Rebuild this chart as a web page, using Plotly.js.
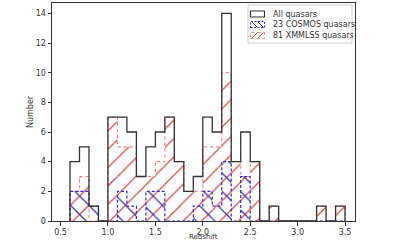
<!DOCTYPE html>
<html>
<head>
<meta charset="utf-8">
<script src="https://cdn.plot.ly/plotly-3.0.1.min.js"></script>
<style>html,body{margin:0;padding:0;background:#fff;}#chart{width:400px;height:240px;}</style>
</head>
<body>
<div id="chart"></div>
<script>
// Bin left edges (bin width 0.1)
const binLeft = [0.6,0.7,0.8,0.9,1.0,1.1,1.2,1.3,1.4,1.5,1.6,1.7,1.8,1.9,2.0,2.1,2.2,2.3,2.4,2.5,2.6,2.7,2.8,2.9,3.0,3.1,3.2,3.3,3.4];
const binWidth = 0.1;
// Counts per bin
const allCounts    = [4,5,1,0,7,7,6,3,5,6,7,4,2,3,7,6,14,4,6,4,0,1,0,0,0,0,1,0,1];
const cosmosCounts = [2,2,1,0,0,2,1,0,2,2,0,0,0,1,2,1,4,0,3,0,0,0,0,0,0,0,0,0,0];
const xmmCounts    = [2,3,0,0,7,5,5,3,3,4,7,4,2,2,5,5,10,4,3,4,0,1,0,0,0,0,1,0,1];
const names = ['All quasars','23 COSMOS quasars','81 XMMLSS quasars'];
const xTitle = 'Redshift';
const yTitle = 'Number';
const xTicks = [0.5,1.0,1.5,2.0,2.5,3.0,3.5];
const yTicks = [0,2,4,6,8,10,12,14];

const edges = binLeft.concat([binLeft[binLeft.length-1] + binWidth]);
function stepX(){ return [edges[0]].concat(edges); }
function stepY(c){ return [0].concat(c).concat([0]); }

const redHatch = 'rgb(214,75,75)';
const redLine = 'rgb(232,135,135)';
const blueHatch = 'rgb(55,45,185)';
const blueLine = 'rgb(45,45,205)';
const black = '#333';

const W = 400, H = 240, M = {l:52, r:45, t:3, b:19};
const pw = W - M.l - M.r, ph = H - M.t - M.b;
const px = x => (x - M.l) / pw;
const py = y => (H - M.b - y) / ph;

const traces = [
  {type:'bar', x:binLeft, y:xmmCounts, width:binWidth, offset:0, showlegend:false, hoverinfo:'skip',
   marker:{color:'rgba(0,0,0,0)', opacity:1, line:{width:0},
     pattern:{shape:'/', fgcolor:redHatch, fgopacity:1, bgcolor:'rgba(0,0,0,0)', size:13, solidity:0.1, fillmode:'overlay'}}},
  {type:'bar', x:binLeft, y:cosmosCounts, width:binWidth, offset:0, showlegend:false, hoverinfo:'skip',
   marker:{color:'rgba(0,0,0,0)', opacity:1, line:{width:0},
     pattern:{shape:'\\', fgcolor:blueHatch, fgopacity:1, bgcolor:'rgba(0,0,0,0)', size:13, solidity:0.1, fillmode:'overlay'}}},
  {type:'scatter', mode:'lines', x:stepX(), y:stepY(xmmCounts), line:{shape:'hv', color:redLine, width:1.2, dash:'dot'}, showlegend:false, hoverinfo:'skip'},
  {type:'scatter', mode:'lines', x:stepX(), y:stepY(cosmosCounts), line:{shape:'hv', color:blueLine, width:1.2, dash:'3px,2px'}, showlegend:false, hoverinfo:'skip'},
  {type:'scatter', mode:'lines', x:stepX(), y:stepY(allCounts), line:{shape:'hv', color:black, width:1.3}, showlegend:false, hoverinfo:'skip'}
];

// manual legend (matplotlib-like compact box)
const shapes = [
  {type:'rect', xref:'paper', yref:'paper', x0:px(248), x1:px(352), y0:py(43), y1:py(5),
   line:{color:'#d0d0d0', width:1}, fillcolor:'rgba(255,255,255,0.85)', layer:'above'}
];
const annotations = [
  {xref:'paper', yref:'paper', x:px(203), y:py(236.5), xanchor:'center', yanchor:'middle', text:xTitle,
   showarrow:false, font:{size:7, color:'#333'}},
  {xref:'paper', yref:'paper', x:px(30), y:py(112), xanchor:'center', yanchor:'middle', text:yTitle,
   textangle:-90, showarrow:false, font:{size:8, color:'#333'}}
];
const rowsY = [14, 24.5, 35.5];
const swStyles = [
  {color:black, dash:'solid', hatch:null},
  {color:blueLine, dash:'2px,1.5px', hatch:'\\', hc:blueHatch},
  {color:redLine, dash:'dot', hatch:'/', hc:redHatch}
];
rowsY.forEach((ry, i) => {
  const s = swStyles[i];
  const x0 = 250.5, x1 = 264.5, y0 = ry - 3, y1 = ry + 3;
  if (s.hatch) {
    [0, 6].forEach(o => {
      const a = x0 + o + 1, b = Math.min(a + 6, x1);
      const line = s.hatch === '/' ? {x0:px(a), y0:py(y1), x1:px(b), y1:py(y0)} : {x0:px(a), y0:py(y0), x1:px(b), y1:py(y1)};
      shapes.push(Object.assign({type:'line', xref:'paper', yref:'paper', line:{color:s.hc, width:1}, layer:'above'}, line));
    });
  }
  shapes.push({type:'rect', xref:'paper', yref:'paper', x0:px(x0), x1:px(x1), y0:py(y1), y1:py(y0),
    line:{color:s.color, width:1.1, dash:s.dash}, fillcolor:'rgba(0,0,0,0)', layer:'above'});
  annotations.push({xref:'paper', yref:'paper', x:px(271), y:py(ry), xanchor:'left', yanchor:'middle',
    text:names[i], showarrow:false, font:{size:8, color:'#333'}});
});

const layout = {
  width:W, height:H,
  margin:M,
  paper_bgcolor:'#fff', plot_bgcolor:'#fff',
  barmode:'overlay',
  font:{family:'DejaVu Sans', size:8, color:'#333'},
  showlegend:false,
  shapes:shapes, annotations:annotations,
  xaxis:{range:[0.41,3.605], tickvals:xTicks, ticktext:xTicks.map(v=>v.toFixed(1)),
    ticks:'outside', ticklen:3.5, tickcolor:black, showgrid:false, zeroline:false,
    showline:true, mirror:true, linecolor:black, linewidth:1},
  yaxis:{range:[0,14.7], tickvals:yTicks, ticks:'outside', ticklen:3.5, tickcolor:black,
    showgrid:false, zeroline:false, showline:true, mirror:true, linecolor:black, linewidth:1}
};

Plotly.newPlot('chart', traces, layout, {displayModeBar:false, staticPlot:true});
</script>
</body>
</html>
